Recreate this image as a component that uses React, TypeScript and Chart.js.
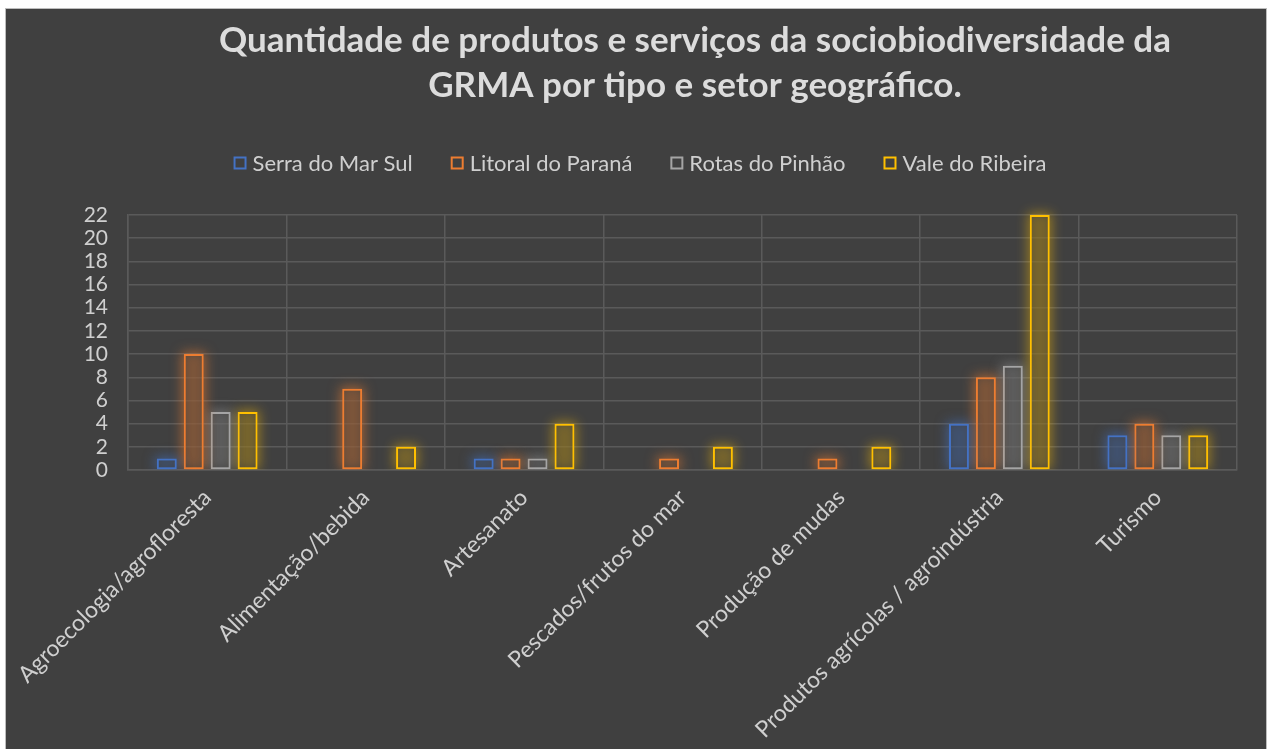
import React, { useEffect, useRef } from "react";
import { Chart, registerables } from "chart.js";

Chart.register(...registerables);

const categories = [
  "Agroecologia/agrofloresta",
  "Alimentação/bebida",
  "Artesanato",
  "Pescados/frutos do mar",
  "Produção de mudas",
  "Produtos agrícolas / agroindústria",
  "Turismo",
];
const serraDoMarSul = [1, 0, 1, 0, 0, 4, 3];
const litoralDoParana = [10, 7, 1, 1, 1, 8, 4];
const rotasDoPinhao = [5, 0, 1, 0, 0, 9, 3];
const valeDoRibeira = [5, 2, 4, 2, 2, 22, 3];
const seriesNames = ["Serra do Mar Sul", "Litoral do Paraná", "Rotas do Pinhão", "Vale do Ribeira"];
const seriesColors = ["#4472C4", "#ED7D31", "#A5A5A5", "#FFC000"];
const seriesFills = [
  "rgba(64,64,64,0.35)",
  "rgba(64,64,64,0.35)",
  "rgba(64,64,64,0.35)",
  "rgba(64,64,64,0.35)",
];
const seriesGlows = [
  "rgba(68,114,196,0.55)",
  "rgba(237,125,49,0.55)",
  "rgba(165,165,165,0.45)",
  "rgba(255,192,0,0.45)",
];
const titleLines = [
  "Quantidade de produtos e serviços da sociobiodiversidade da",
  "GRMA por tipo e setor geográfico.",
];
const yMax = 22;
const yStep = 2;

const FONT = "Lato, 'Open Sans', sans-serif";
const TEXT = "#cfcfcf";
const GRID = "#5a5a5a";

export default function App() {
  const ref = useRef<HTMLCanvasElement | null>(null);

  useEffect(() => {
    const canvas = ref.current;
    if (!canvas) return;
    const seriesData = [serraDoMarSul, litoralDoParana, rotasDoPinhao, valeDoRibeira];

    const panelPlugin = {
      id: "panel",
      beforeDraw(chart: any) {
        const c = chart.ctx;
        c.save();
        c.fillStyle = "#ffffff";
        c.fillRect(0, 0, chart.width, chart.height);
        c.fillStyle = "#404040";
        c.fillRect(6, 9, 1260, 750);
        c.strokeStyle = "#bdbdbd";
        c.lineWidth = 1;
        c.strokeRect(5.5, 8.5, 1261, 760);
        c.restore();
      },
      afterDraw(chart: any) {
        const c = chart.ctx;
        c.save();
        c.fillStyle = "#dcdcdc";
        c.font = `bold 35px ${FONT}`;
        c.textAlign = "center";
        c.textBaseline = "middle";
        titleLines.forEach((t, i) => c.fillText(t, 695, 41 + i * 45));
        c.font = `22px ${FONT}`;
        const box = 13;
        const gapBoxText = 6;
        const gapItems = 38;
        const widths = seriesNames.map((n) => box + gapBoxText + c.measureText(n).width);
        const total = widths.reduce((a, b) => a + b, 0) + gapItems * (widths.length - 1);
        let x = 640 - total / 2;
        const y = 163;
        c.textAlign = "left";
        seriesNames.forEach((n, i) => {
          c.fillStyle = "#404040";
          c.fillRect(x, y - box / 2, box, box);
          c.strokeStyle = seriesColors[i];
          c.lineWidth = 2;
          c.strokeRect(x + 1, y - box / 2 + 1, box - 2, box - 2);
          c.fillStyle = TEXT;
          c.fillText(n, x + box + gapBoxText, y + 1);
          x += widths[i] + gapItems;
        });
        c.restore();
      },
    };

    const OFF = 5000;
    const glowPlugin = {
      id: "glow",
      beforeDatasetDraw(chart: any, args: any) {
        const c = chart.ctx;
        const meta = chart.getDatasetMeta(args.index);
        const vals = seriesData[args.index];
        const ca = chart.chartArea;
        c.save();
        c.beginPath();
        c.rect(ca.left, ca.top - 20, ca.width, ca.height + 20);
        c.clip();
        c.shadowColor = seriesGlows[args.index];
        c.shadowBlur = 12;
        c.shadowOffsetX = -OFF;
        c.fillStyle = "#000";
        meta.data.forEach((el: any, j: number) => {
          if (!vals[j]) return;
          const { x, y, base, width } = el.getProps(["x", "y", "base", "width"], true);
          const top = Math.min(y, base);
          const h = Math.abs(base - y);
          c.fillRect(x - width / 2 - 2 + OFF, top - 2, width + 4, h + 2);
        });
        c.restore();
      },
    };

    const chart = new Chart(canvas, {
      type: "bar",
      data: {
        labels: categories,
        datasets: seriesData.map((d, i) => ({
          label: seriesNames[i],
          data: d,
          backgroundColor: seriesFills[i],
          borderColor: seriesColors[i],
          borderWidth: (ctx: any) => (ctx.raw === 0 ? 0 : 2),
          borderSkipped: false,
          barPercentage: 0.74,
          categoryPercentage: 0.68,
        })),
      },
      options: {
        responsive: false,
        animation: false,
        devicePixelRatio: 1,
        layout: { padding: { left: 6, right: 33, top: 215, bottom: 0 } },
        plugins: {
          title: { display: false },
          legend: { display: false },
          tooltip: { enabled: false },
        },
        scales: {
          x: {
            grid: { color: GRID, lineWidth: 1.5, drawTicks: false, offset: true },
            border: { display: true, color: GRID, width: 1.5 },
            ticks: {
              color: TEXT,
              font: { family: FONT, size: 23 },
              minRotation: 45,
              maxRotation: 45,
              autoSkip: false,
              padding: 14,
            },
            afterFit(scale: any) {
              scale.height = 279;
              scale.paddingLeft = 0;
              scale.paddingRight = 0;
            },
          },
          y: {
            min: 0,
            max: yMax,
            grid: { color: GRID, lineWidth: 1.5, drawTicks: false },
            border: { display: true, color: GRID, width: 1.5 },
            ticks: {
              stepSize: yStep,
              autoSkip: false,
              color: TEXT,
              font: { family: FONT, size: 21 },
              padding: 20,
            },
            afterFit(scale: any) {
              scale.width = 122;
            },
          },
        },
      },
      plugins: [panelPlugin, glowPlugin],
    } as any);

    return () => chart.destroy();
  }, []);

  return (
    <div style={{ position: "absolute", left: 0, top: 0, width: 1270, height: 749 }}>
      <canvas ref={ref} width={1270} height={749} style={{ display: "block" }} />
    </div>
  );
}
